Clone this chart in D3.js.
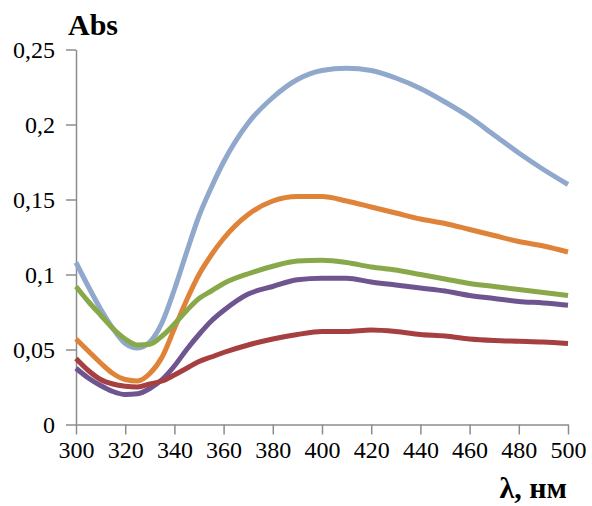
<!DOCTYPE html>
<html>
<head>
<meta charset="utf-8">
<script src="https://cdn.jsdelivr.net/npm/d3@7"></script>
<style>
  body { margin: 0; background: #fff; }
  .axis path, .axis line { stroke: #8c8c8c; stroke-width: 1.5px; }
  .axis text { font-family: "Liberation Serif", "Times New Roman", serif; font-size: 24px; fill: #000; }
  .title { font-family: "Liberation Serif", "Times New Roman", serif; font-weight: bold; fill: #000; }
  .line { fill: none; stroke-width: 5px; stroke-linejoin: round; }
</style>
</head>
<body>
<div id="chart"></div>
<script>
// wavelength, nm
var wavelengths = [300, 305, 310, 315, 320, 325, 330, 335, 340, 345, 350, 355, 360, 370, 380, 390, 400, 410, 420, 430, 440, 450, 460, 470, 480, 490, 500];

// absorbance of each curve
var blueSeries   = [0.108, 0.092, 0.077, 0.064, 0.054, 0.051, 0.055, 0.068, 0.090, 0.115, 0.139, 0.158, 0.175, 0.201, 0.218, 0.230, 0.236, 0.2375, 0.236, 0.231, 0.224, 0.215, 0.205, 0.193, 0.181, 0.170, 0.160];
var orangeSeries = [0.057, 0.049, 0.041, 0.034, 0.030, 0.029, 0.034, 0.045, 0.064, 0.083, 0.100, 0.113, 0.124, 0.140, 0.149, 0.152, 0.152, 0.149, 0.145, 0.141, 0.137, 0.134, 0.130, 0.126, 0.122, 0.119, 0.115];
var greenSeries  = [0.092, 0.082, 0.073, 0.064, 0.057, 0.053, 0.0535, 0.059, 0.067, 0.076, 0.084, 0.089, 0.094, 0.1005, 0.1055, 0.109, 0.1095, 0.108, 0.105, 0.103, 0.100, 0.097, 0.094, 0.092, 0.090, 0.088, 0.086];
var purpleSeries = [0.0375, 0.031, 0.026, 0.022, 0.020, 0.0205, 0.024, 0.030, 0.039, 0.050, 0.060, 0.069, 0.076, 0.087, 0.092, 0.0965, 0.0975, 0.0975, 0.095, 0.093, 0.091, 0.089, 0.086, 0.084, 0.082, 0.081, 0.0795];
var redSeries    = [0.044, 0.036, 0.030, 0.027, 0.0255, 0.025, 0.027, 0.029, 0.033, 0.0375, 0.042, 0.045, 0.048, 0.053, 0.057, 0.060, 0.062, 0.062, 0.063, 0.062, 0.060, 0.059, 0.057, 0.056, 0.0555, 0.055, 0.054];

var xTicks = [300, 320, 340, 360, 380, 400, 420, 440, 460, 480, 500];
var yTicks = [0, 0.05, 0.1, 0.15, 0.2, 0.25];

var series = [
  { values: blueSeries,   color: '#8fa8cc' },
  { values: orangeSeries, color: '#df8339' },
  { values: greenSeries,  color: '#88a84a' },
  { values: purpleSeries, color: '#6e5590' },
  { values: redSeries,    color: '#a63f3f' }
];

var width = 592, height = 506;
var margin = { top: 49.5, right: 24, bottom: 81.5, left: 76 };

var svg = d3.select('#chart').append('svg')
  .attr('width', width)
  .attr('height', height);

var x = d3.scaleLinear().domain([300, 500]).range([margin.left, width - margin.right]);
var y = d3.scaleLinear().domain([0, 0.25]).range([height - margin.bottom, margin.top]);

var fmt = function(d) { return String(d).replace('.', ','); };

// y axis
svg.append('g')
  .attr('class', 'axis')
  .attr('transform', 'translate(' + margin.left + ',0)')
  .call(d3.axisLeft(y).tickValues(yTicks).tickFormat(fmt).tickSize(10).tickSizeOuter(0).tickPadding(11));

// x axis
svg.append('g')
  .attr('class', 'axis')
  .attr('transform', 'translate(0,' + (height - margin.bottom) + ')')
  .call(d3.axisBottom(x).tickValues(xTicks).tickFormat(d3.format('d')).tickSize(10).tickSizeOuter(0).tickPadding(6));

var line = d3.line()
  .x(function(d) { return x(d[0]); })
  .y(function(d) { return y(d[1]); })
  .curve(d3.curveMonotoneX);

series.forEach(function(s) {
  svg.append('path')
    .datum(wavelengths.map(function(w, i) { return [w, s.values[i]]; }))
    .attr('class', 'line')
    .attr('stroke', s.color)
    .attr('d', line);
});

// axis titles
svg.append('text')
  .attr('class', 'title')
  .attr('x', 68)
  .attr('y', 35)
  .style('font-size', '30px')
  .text('Abs');

svg.append('text')
  .attr('class', 'title')
  .attr('x', 567)
  .attr('y', 498)
  .attr('text-anchor', 'end')
  .style('font-size', '30px')
  .text('λ, нм');
</script>
</body>
</html>
